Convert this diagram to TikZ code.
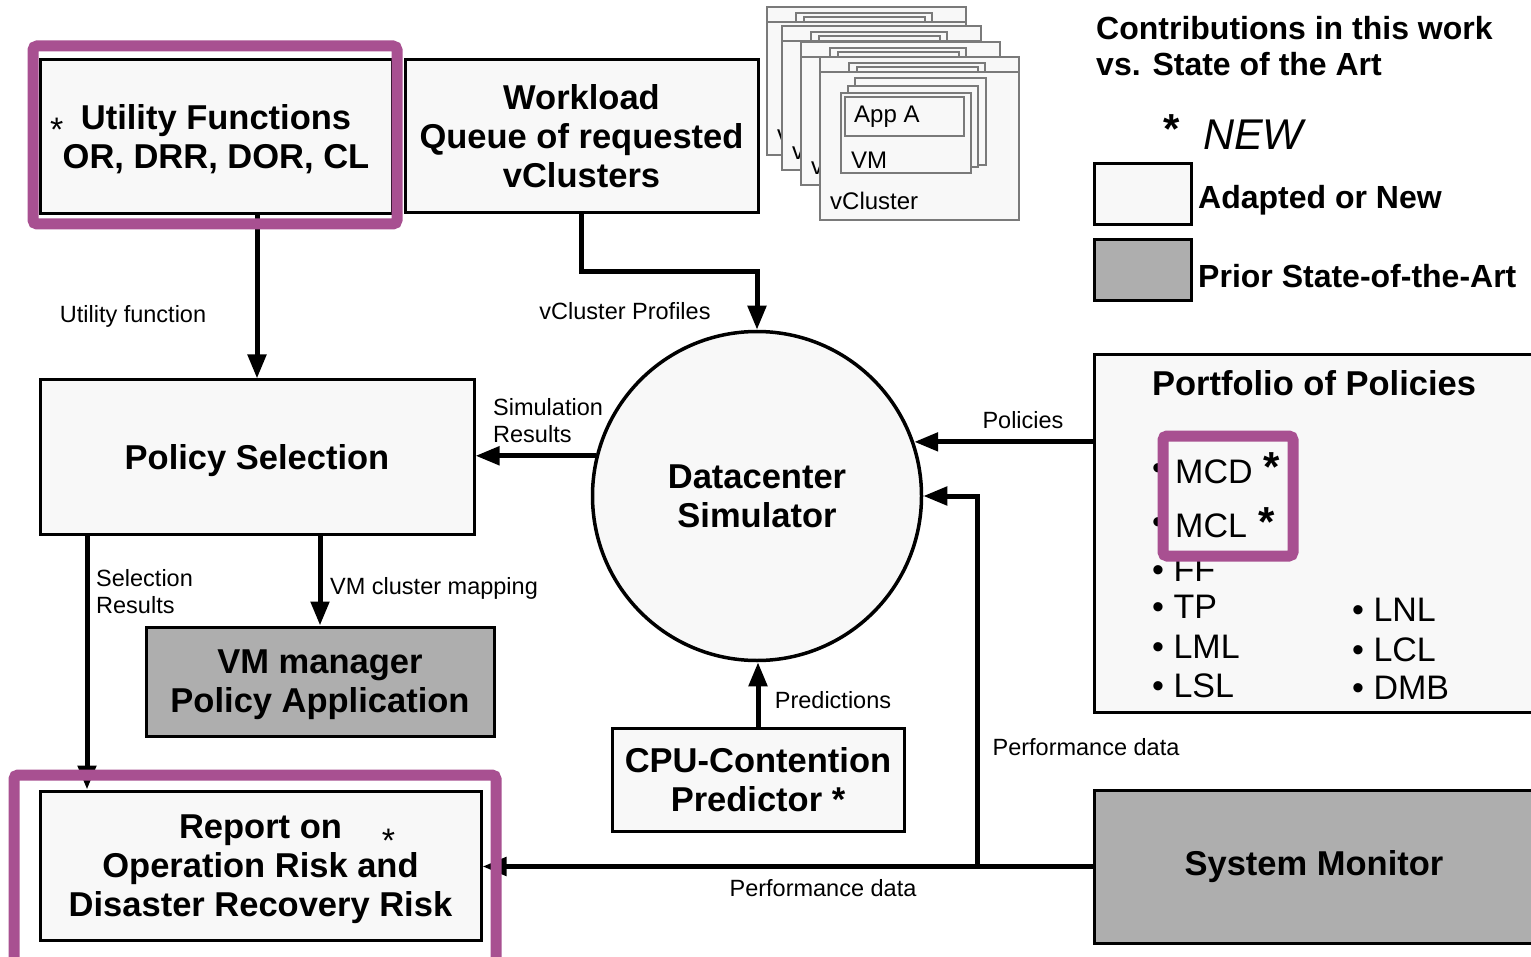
\documentclass[tikz,border=0pt]{standalone}
\usepackage{fontspec}
\setmainfont{Liberation Sans}
\usetikzlibrary{arrows.meta}
\definecolor{boxfill}{HTML}{F8F8F8}
\definecolor{graybox}{HTML}{AEAEAE}
\definecolor{hlpurple}{RGB}{168,80,145}
\definecolor{vcline}{HTML}{7A7A7A}
\newcommand\myB{\fontsize{34.5}{39}\selectfont\bfseries}
\newcommand\myS{\fontsize{23.5}{27}\selectfont}
\newcommand\myL{\fontsize{34}{40}\selectfont}
\newcommand\myV{\fontsize{24}{28}\selectfont}
\newcommand\myT{\fontsize{32}{36}\selectfont\bfseries}
\tikzset{
  box/.style={draw=black, line width=3pt, fill=boxfill, inner sep=0pt, align=center, font=\myB, text depth=0pt},
  gbox/.style={box, fill=graybox},
  arr/.style={line width=5pt, -{Triangle[length=24pt,width=18pt]}},
  lbl/.style={font=\myS, inner sep=0pt, align=left},
  hl/.style={draw=hlpurple, line width=11pt, rounded corners=4pt},
  vc/.style={draw=vcline, line width=1.2pt, fill=boxfill},
  item/.style={font=\myL, inner sep=0pt, anchor=west},
  vtxt/.style={font=\myV, anchor=west, inner sep=0pt},
  smallstar/.style={font=\myL, anchor=north west, inner sep=0pt, text depth=-14pt},
  bigstar/.style={font=\fontsize{42}{42}\selectfont\bfseries, anchor=north west, inner sep=0pt, text depth=-17pt},
  pics/vcl/.style={code={
    \draw[vc] (0,0) rectangle (199,#1);
    \draw[vc] (0,15) -- (199,15);
    \draw[vc] (29,6) rectangle (165,15);
    \draw[vc] (37,10) rectangle (158,15);
    \draw[vc] (35,21) rectangle (166,108);
    \draw[vc] (28,29) rectangle (158,110);
    \draw[vc] (21,36) rectangle (151,116);
    \draw[vc] (25,40) rectangle (144,79);
  }}
}
\begin{document}
\begin{tikzpicture}[x=1pt,y=-1pt]
\useasboundingbox (0,0) rectangle (1531,957);
\fill[white] (0,0) rectangle (1531,957);
\clip (0,0) rectangle (1531,957);

% vCluster stack (back to front)
\pic at (767,7) {vcl=148};
\node[vtxt] (v1) at (777,136) {v};
\pic at (782,26) {vcl=144};
\node[vtxt] (v2) at (792,153) {v};
\pic at (801,42) {vcl=143};
\node[vtxt] (v3) at (811,168) {v};
\pic at (820,57) {vcl=163};
\node[vtxt] (appa) at (854,117) {App A};
\node[vtxt] (vmt) at (851,160) {VM};
\node[vtxt] (vcl) at (830,201) {vCluster};

% main boxes
\node[box, minimum width=352, minimum height=154] (util) at (216,137) {Utility Functions\\OR, DRR, DOR, CL};
\node[smallstar] (ustar) at (50,118) {*};
\node[box, minimum width=353, minimum height=153] (work) at (581.5,136.5) {Workload\\Queue of requested\\vClusters};
\node[box, minimum width=434, minimum height=154] (psel) at (257,457) {Policy Selection};
\node[gbox, minimum width=348, minimum height=109] (vmm) at (320,681.5) {VM manager\\Policy Application};
\node[box, minimum width=292, minimum height=103] (cpu) at (758,779.5) {CPU-Contention\\Predictor *};
\node[box, minimum width=441, minimum height=149] (report) at (260.5,865.5)
  {Report on\rlap{\hspace{40pt}\raisebox{-14pt}{\fontsize{34}{40}\selectfont\mdseries *}}\\Operation Risk and\\Disaster Recovery Risk};
\node[circle, draw=black, line width=3.5pt, fill=boxfill, minimum size=329, inner sep=0pt, font=\myB, align=center] (sim) at (757,496) {Datacenter\\Simulator};

% portfolio
\node[box, minimum width=470, minimum height=357] (port) at (1329,533.5) {};
\node[font=\myB, inner sep=0pt] (porttitle) at (1314,383) {Portfolio of Policies};
\node[item] (b1) at (1152,472) {•};
\node[item] (b2) at (1152,526) {•};
\node[item] (iff) at (1152,570) {• FF};
\node[item] (itp) at (1152,607) {• TP};
\node[item] (ilml) at (1152,647) {• LML};
\node[item] (ilsl) at (1152,686) {• LSL};
\node[item] (ilnl) at (1352,610) {• LNL};
\node[item] (ilcl) at (1352,650) {• LCL};
\node[item] (idmb) at (1352,688) {• DMB};
\draw[hl, fill=boxfill] (1163,436) rectangle (1293,556);
\node[item] (imcd) at (1175,472) {MCD};
\node[item] (imcl) at (1175,526) {MCL};
\node[bigstar] (s1) at (1263,452) {*};
\node[bigstar] (s2) at (1258,507) {*};

% system monitor
\node[gbox, minimum width=470, minimum height=153] (sysmon) at (1329,866.5) {};
\node[font=\myB, inner sep=0pt] (systext) at (1314,867) {System Monitor};

% legend
\node[font=\myT, anchor=west, inner sep=0pt] (lt1) at (1096,28) {Contributions in this work};
\node[font=\myT, anchor=west, inner sep=0pt] (lt2) at (1096,64) {vs. State of the Art};
\node[bigstar] (lstar) at (1163,114) {*};
\node[font=\fontsize{43}{43}\selectfont\itshape, anchor=west, inner sep=0pt] (lnew) at (1203,135) {NEW};
\node[box, minimum width=97, minimum height=61] (leg1) at (1142.5,194.5) {};
\node[gbox, minimum width=97, minimum height=61] (leg2) at (1142.5,270.5) {};
\node[font=\myT, anchor=base west, inner sep=0pt] (leg1t) at (1198,208.5) {Adapted or New};
\node[font=\myT, anchor=base west, inner sep=0pt] (leg2t) at (1198,288) {Prior State-of-the-Art};

% connectors
\coordinate (srx) at (87,0);
\coordinate (pj) at (977,0);
\draw[arr] (util.south -| psel.north) -- (psel.north);
\draw[arr] (work.south) -- ++(0,57) -| (sim.north);
\draw[arr] (sim.166.6) -- (sim.166.6 -| psel.east);
\draw[arr] (port.west |- sim.19.2) -- (sim.19.2);
\draw[arr] (sysmon.west) -| (pj |- sim.east) -- (sim.east);
\draw[arr] (sysmon.west) -- (sysmon.west -| report.east);
\draw[arr] (cpu.north) -- (cpu.north |- sim.south);
\draw[arr] (psel.south -| vmm.north) -- (vmm.north);
\draw[arr] (psel.south -| srx) -- (report.north -| srx);

% highlights
\draw[hl] (33,46) rectangle (397,224);
\draw[hl] (14,775) rectangle (496,970);

% labels
\node[lbl] (l1) at (133,316) {Utility function};
\node[lbl] (l2) at (625,311) {vCluster Profiles};
\node[lbl, anchor=west] (l3) at (493,421) {Simulation\\Results};
\node[lbl] (l4) at (1023,420) {Policies};
\node[lbl] (l5) at (1086,747) {Performance data};
\node[lbl] (l6) at (823,888) {Performance data};
\node[lbl] (l7) at (833,700) {Predictions};
\node[lbl, anchor=west] (l8) at (330,588) {VM cluster mapping};
\node[lbl, anchor=west] (l9) at (96,591.5) {Selection\\Results};
\end{tikzpicture}
\end{document}
